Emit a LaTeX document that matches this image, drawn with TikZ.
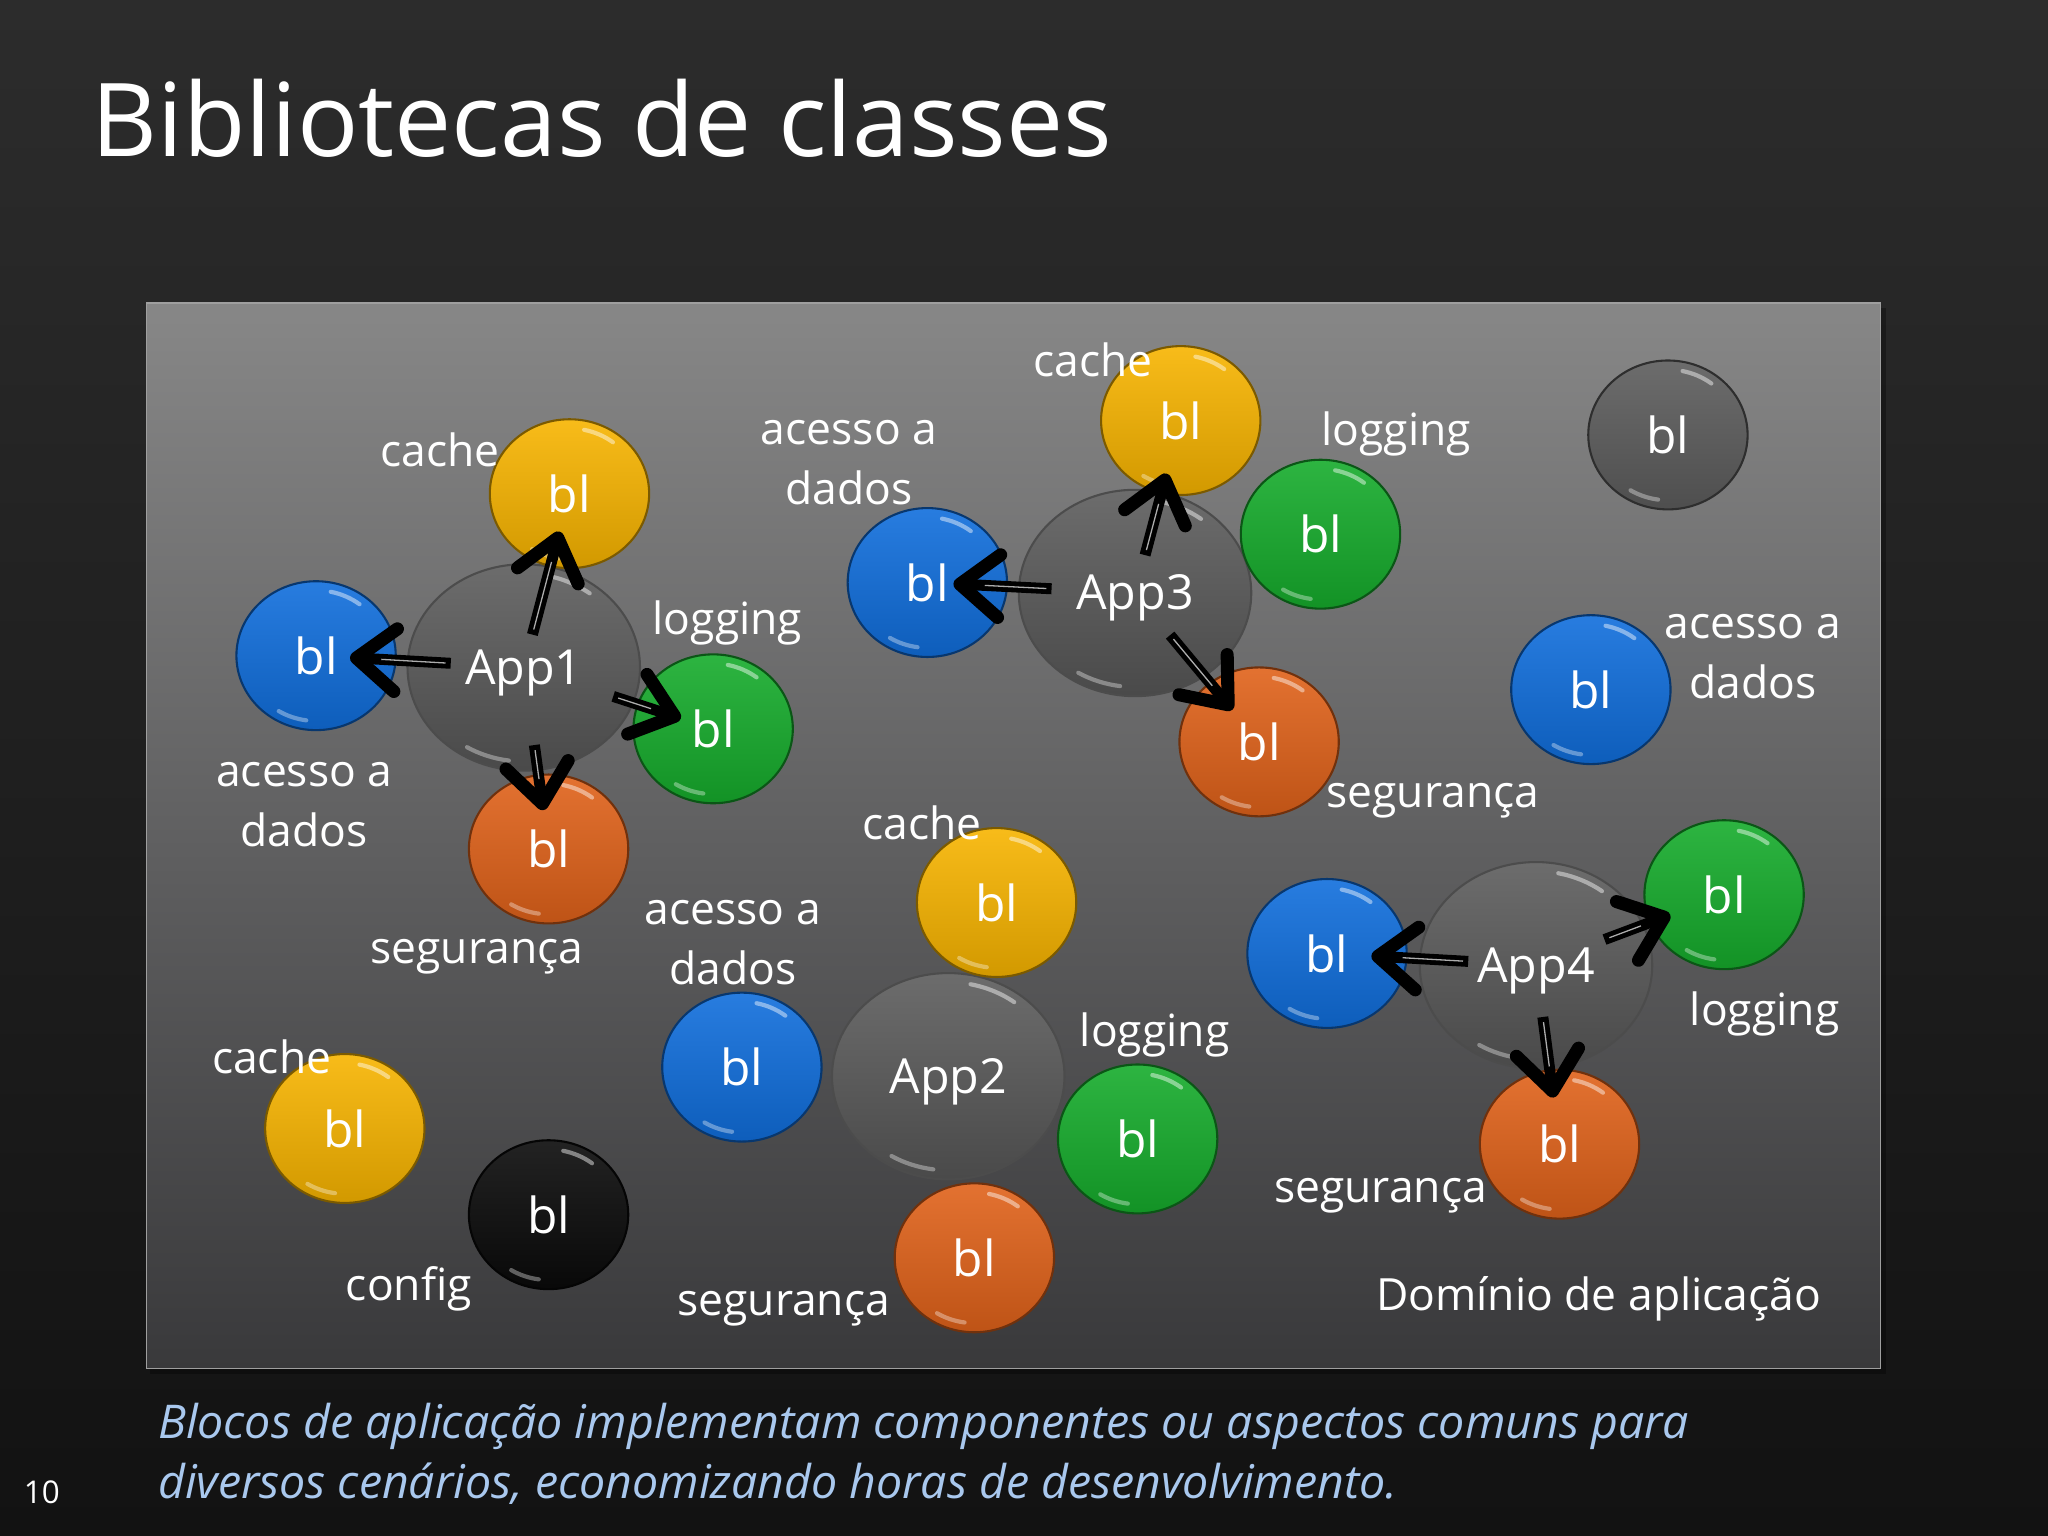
\documentclass[tikz,border=0pt]{standalone}
\usepackage{fontspec}
\setmainfont{Open Sans}
\usetikzlibrary{shapes.geometric,arrows.meta}

\definecolor{fundotopo}{HTML}{2C2C2C}
\definecolor{fundobase}{HTML}{121212}
\definecolor{painelclaro}{HTML}{878787}
\definecolor{painelescuro}{HTML}{39393B}
\definecolor{blamarelo}{HTML}{F7B400}
\definecolor{blazul}{HTML}{106EDC}
\definecolor{blverde}{HTML}{16AC2C}
\definecolor{bllaranja}{HTML}{E0621A}
\definecolor{blcinza}{HTML}{5C5C5C}
\definecolor{blpreto}{HTML}{0A0A0A}
\definecolor{appcinza}{HTML}{5C5C5C}
\definecolor{legendaazul}{HTML}{A9C8EE}

\begin{document}
\begin{tikzpicture}[x=0.5pt,y=-0.5pt,
    gloss/.style 2 args={path picture={
      \draw[white,opacity=0.45,line width=1.6pt,line cap=round]
        ([shift={(78:#1 and #2)}]path picture bounding box.center) arc[start angle=78,end angle=52,x radius=#1,y radius=#2];
      \draw[white,opacity=0.35,line width=1.6pt,line cap=round]
        ([shift={(262:#1 and #2)}]path picture bounding box.center) arc[start angle=262,end angle=238,x radius=#1,y radius=#2];}},
    marble/.style={ellipse,minimum width=61pt,minimum height=57pt,inner sep=0pt,
      line width=0.8pt,draw=#1!50!black,top color=#1!90!white,bottom color=#1!85!black,
      gloss={27pt}{25pt},text=white,font=\fontsize{19}{22}\selectfont},
    app/.style={ellipse,minimum width=89pt,minimum height=79pt,inner sep=0pt,
      line width=0.8pt,draw=black!70,top color=appcinza!90!white,bottom color=appcinza!80!black,
      gloss={41pt}{36pt},text=white,text height=13pt,text depth=0pt,font=\fontsize{18.5}{22}\selectfont},
    lbl/.style={text=white,font=\fontsize{17}{23}\selectfont,align=center,anchor=base},
    dep/.style 2 args={line width=4.2pt,shorten <=#1,shorten >=#2,
      -{Straight Barb[length=15pt,width=24pt,line width=5pt,round]},
      postaction={draw=gray!65,line width=0.5pt,-,shorten <=#1+2pt,shorten >=#2+12pt}}]

  % fundo e painel
  \useasboundingbox (0,0) rectangle (1568,1176);
  \shade[top color=fundotopo,bottom color=fundobase] (0,0) rectangle (1568,1176);
  \fill[black,opacity=0.3] (115,236) rectangle (1444,1052);
  \shade[top color=painelclaro,bottom color=painelescuro,draw=gray!75] (112,232) rectangle (1440,1048);

  \node[anchor=base west,text=white,font=\fontsize{39}{44}\selectfont] (titulo) at (63,120) {Bibliotecas de classes};

  % aplicacoes
  \node[app] (app1) at (401,511) {App1};
  \node[app] (app3) at (869,454) {App3};
  \node[app] (app2) at (726,824) {App2};
  \node[app] (app4) at (1176,739) {App4};

  % blocos
  \node[marble=blamarelo] (a1cache) at (436,378) {bl};
  \node[marble=blazul] (a1dados) at (242,502) {bl};
  \node[marble=blverde] (a1log) at (546,558) {bl};
  \node[marble=bllaranja] (a1seg) at (420,650) {bl};

  \node[marble=blamarelo] (a3cache) at (904,322) {bl};
  \node[marble=blazul] (a3dados) at (710,446) {bl};
  \node[marble=blverde] (a3log) at (1011,409) {bl};
  \node[marble=bllaranja] (a3seg) at (964,568) {bl};

  \node[marble=blcinza] (avulso1) at (1277,333) {bl};
  \node[marble=blazul] (avulso2) at (1218,528) {bl};

  \node[marble=blamarelo] (a2cache) at (763,691) {bl};
  \node[marble=blazul] (a2dados) at (568,817) {bl};
  \node[marble=blverde] (a2log) at (871,872) {bl};
  \node[marble=bllaranja] (a2seg) at (746,963) {bl};

  \node[marble=blazul] (a4dados) at (1016,730) {bl};
  \node[marble=blverde] (a4log) at (1320,685) {bl};
  \node[marble=bllaranja] (a4seg) at (1194,876) {bl};

  \node[marble=blamarelo] (avulso3) at (264,864) {bl};
  \node[marble=blpreto] (avulso4) at (420,930) {bl};

  % rotulos
  \node[lbl] (l1cache) at (337,357) {cache};
  \node[lbl] (l1dados) at (233,648) {acesso a\\dados};
  \node[lbl] (l1log) at (557,486) {logging};
  \node[lbl] (l1seg) at (365,738) {segurança};
  \node[lbl] (l3cache) at (837,288) {cache};
  \node[lbl] (l3dados) at (650,386) {acesso a\\dados};
  \node[lbl] (l3log) at (1069,341) {logging};
  \node[lbl] (l3seg) at (1097,618) {segurança};
  \node[lbl] (lavulso2) at (1342,535) {acesso a\\dados};
  \node[lbl] (l2cache) at (706,643) {cache};
  \node[lbl] (l2dados) at (561,754) {acesso a\\dados};
  \node[lbl] (l2log) at (884,801) {logging};
  \node[lbl] (l2seg) at (600,1007) {segurança};
  \node[lbl] (l4log) at (1351,785) {logging};
  \node[lbl] (l4seg) at (1057,921) {segurança};
  \node[lbl] (lavulso3) at (208,822) {cache};
  \node[lbl] (lconfig) at (313,996) {config};
  \node[lbl] (dominio) at (1224,1003) {Domínio de aplicação};

  % dependencias
  \path
    (app1.center)
      edge[dep={13pt}{15pt}] (a1cache.center)
      edge[dep={28pt}{13pt}] (a1dados.center)
      edge[dep={36pt}{13pt}] (a1log.center)
      edge[dep={30pt}{15pt}] (a1seg.center)
    (app3.center)
      edge[dep={15pt}{21pt}] (a3cache.center)
      edge[dep={32pt}{10pt}] (a3dados.center)
      edge[dep={21pt}{16pt}] (a3seg.center)
    (app4.center)
      edge[dep={26pt}{17pt}] (a4dados.center)
      edge[dep={28pt}{22pt}] (a4log.center)
      edge[dep={20pt}{18pt}] (a4seg.center);

  \node[anchor=base west,align=left,text=legendaazul,font=\itshape\fontsize{17.8}{23}\selectfont] (legenda) at (114,1147)
    {Blocos de aplicação implementam componentes ou aspectos comuns para\\diversos cenários, economizando horas de desenvolvimento.};
  \node[anchor=base,text=white,font=\fontsize{12}{14}\selectfont] (pagina) at (32,1151) {10};
\end{tikzpicture}
\end{document}
